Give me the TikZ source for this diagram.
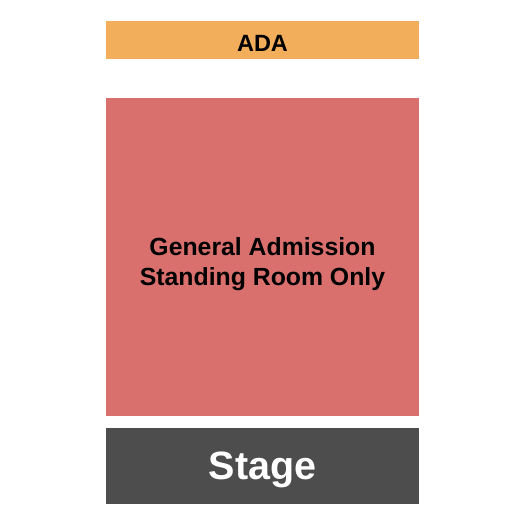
\documentclass[tikz,border=0pt]{standalone}
\usepackage{fontspec}
\setmainfont{Liberation Sans}
\definecolor{adac}{HTML}{F2AE5A}
\definecolor{gac}{HTML}{D9706E}
\definecolor{stagec}{HTML}{4D4D4D}
\begin{document}
\begin{tikzpicture}[x=1pt,y=-1pt,
  blk/.style={draw=none,inner sep=0pt,font=\bfseries,align=center}]
\useasboundingbox (0,0) rectangle (525,525);
\fill[adac] (106,21) rectangle (419,59);
\fill[gac] (106,98) rectangle (419,415.5);
\fill[stagec] (106,428) rectangle (419,504);
\node[blk,font=\fontsize{23.5}{28}\selectfont\bfseries] (ada) at (262.5,43.5) {ADA};
\node[blk,font=\fontsize{24.8}{30}\selectfont\bfseries] (ga) at (262.5,264) {General Admission\\Standing Room Only};
\node[blk,text=white,font=\fontsize{39.5}{44}\selectfont\bfseries] (stage) at (262.5,470) {Stage};
\end{tikzpicture}
\end{document}
